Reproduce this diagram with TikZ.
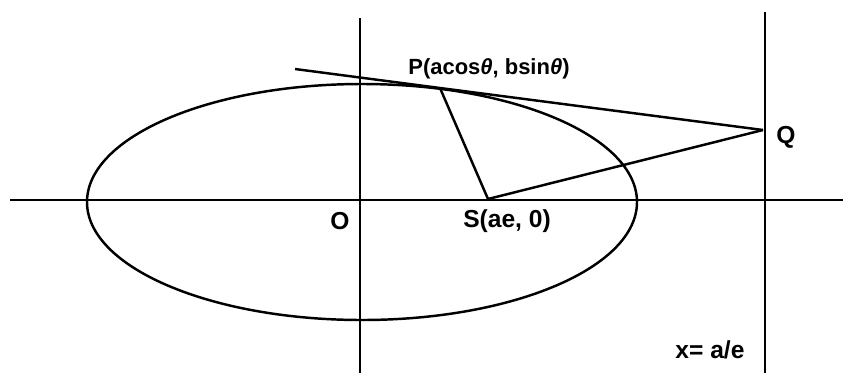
\documentclass[tikz,border=0pt]{standalone}
\usepackage{fontspec}
\setmainfont{Liberation Sans}
\usepackage{tikz}
\usetikzlibrary{calc}

\begin{document}
\begin{tikzpicture}[x=0.02cm, y=-0.02cm, line width=1.4pt,
    lbl/.style={font=\fontsize{14}{16}\selectfont\bfseries, inner sep=1pt}]
      \useasboundingbox (0,0) rectangle (843,373);

      % Points
      \coordinate (O) at (362,202);
      \coordinate (S) at (488,199);
      \coordinate (P) at (440,88);
      \coordinate (Q) at (763,130);
      \coordinate (T) at (295,69);

      % Axes and directrix
      \draw (10,200) -- (843,200);
      \draw (360,18) -- (360,373);
      \draw (765,12) -- (765,373);

      % Ellipse
      \draw (O) ellipse [x radius=275, y radius=118];

      % Tangent and focal lines
      \draw (T) -- (P) -- (Q);
      \draw (P) -- (S) -- (Q);

      % Labels
      \node[lbl, font=\fontsize{12.5}{14}\selectfont\bfseries] (plbl) at (489,69) {P(acos{\itshape θ}, bsin{\itshape θ})};
      \node[lbl] (qlbl) at (786,137) {Q};
      \node[lbl] (olbl) at (340,221) {O};
      \node[lbl] (slbl) at (507,221) {S(ae, 0)};
      \node[lbl] (dlbl) at (710,350) {x= a/e};
    \end{tikzpicture}
\end{document}
